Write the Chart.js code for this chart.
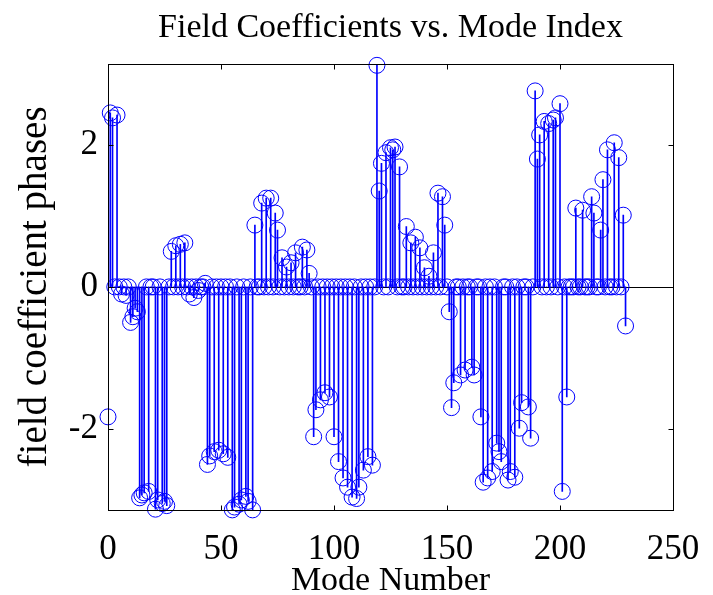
<!DOCTYPE html>
<html>
<head>
<meta charset="utf-8">
<script src="https://cdn.jsdelivr.net/npm/chart.js@4/dist/chart.umd.min.js"></script>
<style>
  body { margin: 0; background: #fff; }
  #wrap { width: 713px; height: 595px; }
</style>
</head>
<body>
<div id="wrap"><canvas id="chart" width="713" height="595"></canvas></div>
<script>
// phase of each field coefficient (mode 0..229)
var phases = [
  -1.83, 2.45, 2.38, 0, 2.42, 0, -0.1, 0, -0.12, 0,
  -0.5, -0.42, -0.3, -0.35, -2.97, -2.93, -2.9, 0, -2.88, 0,
  0, -3.13, -3.0, 0, -3.05, -3.02, -3.08, 0, 0.5, 0,
  0.58, 0, 0.6, 0, 0.62, 0, -0.1, 0, -0.15, 0,
  -0.05, 0, 0, 0.05, -2.5, -2.38, 0, -2.32, 0, -2.3,
  0, -2.35, 0, -2.4, 0, -3.14, -3.1, 0, -3.06, -3.0,
  0, -2.95, -3.02, 0, -3.14, 0.87, 0, 0, 1.18, 0,
  1.25, 0, 1.25, 0, 1.04, 0.8, 0, 0.41, 0, 0.28,
  0, 0.34, 0, 0.48, 0, 0, 0.56, 0, 0.52, 0.19,
  0, -2.11, -1.73, 0, -1.59, 0, -1.49, 0, -1.55, 0,
  -2.11, 0, -2.46, 0, -2.69, 0, -2.82, 0, -2.96, 0,
  -2.98, -2.82, 0, -2.58, 0, -2.39, 0, -2.51, 0, 3.12,
  1.35, 1.74, 0, 1.89, 0, 1.96, 1.93, 1.97, 0, 1.69,
  0, 0, 0.85, 0, 0.62, 0, 0.7, 0, 0.55, 0,
  0.27, 0, 0.15, 0, 0.48, 0, 1.32, 0, 1.27, 0.87,
  0, -0.35, -1.7, -1.35, 0, 0, -1.24, 0, -1.17, 0,
  0, -1.13, -1.24, 0, 0, -1.83, -2.75, 0, -2.69, 0,
  -2.6, 0, -2.2, -2.32, -2.46, 0, 0, -2.72, -2.6, 0,
  -2.68, 0, -1.99, -1.63, 0, 0, -1.69, -2.13, 0, 2.76,
  1.8, 2.14, 0, 2.33, 0, 2.3, 0, 2.35, 2.38, 0,
  2.58, -2.88, 0, -1.55, 0, 0, 0, 1.11, 0, 0,
  1.08, 0, 0, 0, 1.27, 1.04, 0, 0, 0.8, 1.51,
  0, 1.93, 0, 0, 2.03, 0, 1.82, 0, 1.01, -0.55
];
var modes = phases.map(function (_, i) { return i; });

var xTicks = [0, 50, 100, 150, 200, 250];
var yTicks = [-2, 0, 2];

var points = modes.map(function (m, i) { return { x: m, y: phases[i] }; });

var serif = 'Liberation Serif, Times New Roman, serif';
var blue = '#0000ff';

// baseline, box and inward ticks like a matlab axes
var stemFrame = {
  id: 'stemFrame',
  afterLayout: function (chart) {
    // centre the title over the axes, not the whole canvas
    var tb = chart.titleBlock, a = chart.chartArea;
    if (tb) { tb.left = a.left; tb.right = a.right; tb.width = a.right - a.left; }
  },
  beforeDatasetsDraw: function (chart) {
    var a = chart.chartArea, ctx = chart.ctx;
    var y0 = Math.round(chart.scales.y.getPixelForValue(0)) + 0.5;
    ctx.save();
    ctx.strokeStyle = '#000';
    ctx.lineWidth = 1;
    ctx.beginPath();
    ctx.moveTo(a.left, y0);
    ctx.lineTo(a.right, y0);
    ctx.stroke();
    ctx.restore();
  },
  afterDraw: function (chart) {
    var a = chart.chartArea, ctx = chart.ctx;
    var l = Math.round(a.left) + 0.5, r = Math.round(a.right) + 0.5;
    var t = Math.round(a.top) + 0.5, b = Math.round(a.bottom) + 0.5;
    var len = 5;
    ctx.save();
    ctx.strokeStyle = '#000';
    ctx.lineWidth = 1;
    ctx.strokeRect(l, t, r - l, b - t);
    ctx.beginPath();
    xTicks.forEach(function (v) {
      var px = Math.round(chart.scales.x.getPixelForValue(v)) + 0.5;
      ctx.moveTo(px, b); ctx.lineTo(px, b - len);
      ctx.moveTo(px, t); ctx.lineTo(px, t + len);
    });
    yTicks.forEach(function (v) {
      var py = Math.round(chart.scales.y.getPixelForValue(v)) + 0.5;
      ctx.moveTo(l, py); ctx.lineTo(l + len, py);
      ctx.moveTo(r, py); ctx.lineTo(r - len, py);
    });
    ctx.stroke();
    ctx.restore();
  }
};

var ctx = document.getElementById('chart').getContext('2d');
var chart = new Chart(ctx, {
  type: 'bar',
  data: {
    datasets: [{
      type: 'line',
      data: points,
      showLine: false,
      pointStyle: 'circle',
      pointRadius: 8,
      pointHoverRadius: 8,
      pointBorderWidth: 1,
      borderColor: blue,
      backgroundColor: 'rgba(0,0,0,0)',
      clip: false,
      order: 0
    }, {
      type: 'bar',
      data: points,
      backgroundColor: blue,
      borderWidth: 0,
      barThickness: 1,
      order: 1
    }]
  },
  options: {
    responsive: false,
    animation: false,
    events: [],
    layout: { padding: { left: 0, right: 40, top: 0, bottom: 0 } },
    plugins: {
      legend: { display: false },
      tooltip: { enabled: false },
      title: {
        display: true,
        text: 'Field Coefficients vs. Mode Index',
        color: '#000',
        font: { family: serif, size: 34, weight: 'normal', lineHeight: 1.2 },
        padding: { top: 8, bottom: 15 }
      }
    },
    scales: {
      x: {
        type: 'linear',
        min: 0,
        max: 250,
        offset: false,
        grid: { display: false, drawTicks: false },
        border: { display: false },
        afterBuildTicks: function (s) { s.ticks = xTicks.map(function (v) { return { value: v }; }); },
        ticks: {
          color: '#000',
          padding: 8,
          maxRotation: 0,
          font: { family: serif, size: 35, lineHeight: 1.8 }
        },
        title: {
          display: true,
          text: 'Mode Number',
          color: '#000',
          font: { family: serif, size: 34, lineHeight: 0.8 },
          padding: { top: 0, bottom: 0 }
        },
        afterFit: function (s) { s.height = 85; }
      },
      y: {
        min: -Math.PI,
        max: Math.PI,
        grid: { display: false, drawTicks: false },
        border: { display: false },
        afterBuildTicks: function (s) { s.ticks = yTicks.map(function (v) { return { value: v }; }); },
        ticks: {
          color: '#000',
          padding: 10,
          font: { family: serif, size: 35 }
        },
        title: {
          display: true,
          text: 'field coefficient phases',
          color: '#000',
          font: { family: serif, size: 39, lineHeight: 1.2 },
          padding: { top: 12, bottom: 0 }
        },
        afterFit: function (s) { s.width = 108; }
      }
    }
  },
  plugins: [stemFrame]
});
</script>
</body>
</html>
